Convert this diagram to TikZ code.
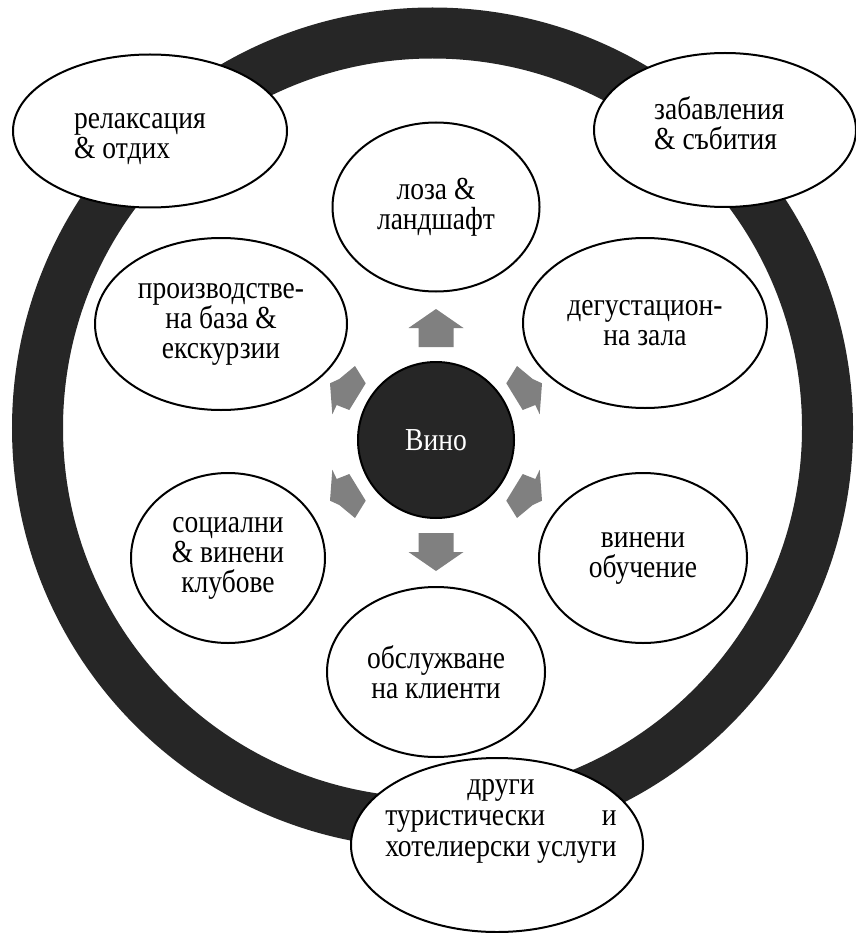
\documentclass[tikz,border=0pt]{standalone}
\usepackage{fontspec}
\setmainfont{Liberation Serif}[FakeStretch=0.86]
\usetikzlibrary{shapes.geometric}
\definecolor{ringc}{HTML}{262626}
\definecolor{arrc}{HTML}{808080}
\newsavebox\hotbox
\newcommand\dfont{\fontsize{32}{30}\selectfont}
\begin{document}
\sbox\hotbox{\fontsize{32}{31}\selectfont хотелиерски услуги}%
\begin{tikzpicture}[x=1pt,y=-1pt,
  ell/.style={ellipse, draw=black, line width=2pt, fill=white, inner sep=0pt,
    align=center, font=\dfont},
  txt/.style={inner sep=0pt, font=\dfont},
  radarrow/.style={fill=arrc}]
\useasboundingbox (0,0) rectangle (855,933);
\fill[white] (0,0) rectangle (855,933);
% ring
\draw[ringc, line width=51pt] (432.5,428) circle[radius=395];
% outer ellipses
\node[ell, minimum width=274pt, minimum height=153pt] (relax) at (150,131) {};
\node[txt, anchor=west, align=left] (relaxt) at (74,139) {релаксация\\\& отдих};
\node[ell, minimum width=262pt, minimum height=154pt] (fun) at (725,130) {};
\node[txt, anchor=west, align=left] (funt) at (654,123) {забавления\\\& събития};
\node[ell, minimum width=292pt, minimum height=174pt] (other) at (497,845) {};
\node[txt, align=center, font=\fontsize{32}{31}\selectfont] (othert) at (501,821)
  {други\\\makebox[\wd\hotbox]{туристически\hfill и}\\\usebox\hotbox};
% inner ellipses
\node[ell, minimum width=207pt, minimum height=169pt] (vine) at (436,207) {лоза \&\\ландшафт};
\node[ell, minimum width=252pt, minimum height=172pt] (prod) at (221,324) {производстве-\\на база \&\\екскурзии};
\node[ell, minimum width=244pt, minimum height=170pt] (tast) at (645,323) {дегустацион-\\на зала};
\node[ell, minimum width=194pt, minimum height=170pt] (club) at (228,558) {социални\\\& винени\\клубове};
\node[ell, minimum width=208pt, minimum height=170pt] (edu) at (643,558) {винени\\обучение};
\node[ell, minimum width=218pt, minimum height=170pt] (serv) at (436,672) {обслужване\\на клиенти};
% centre
\node[circle, draw=black, line width=2pt, fill=ringc, minimum size=156pt, inner sep=0pt,
  text=white, font=\dfont] (wine) at (436,440) {Вино};
% arrows
\fill[radarrow, shift={(wine.center)}] (-17.5,-93) -- (17.5,-93) -- (17.5,-112) -- (27.5,-112)
  -- (0,-131) -- (-27.5,-112) -- (-17.5,-112) -- cycle;
\fill[radarrow, shift={(wine.center)}, yscale=-1] (-17.5,-93) -- (17.5,-93) -- (17.5,-112) -- (27.5,-112)
  -- (0,-131) -- (-27.5,-112) -- (-17.5,-112) -- cycle;
\foreach \sx/\sy/\dy in {1/1/0, -1/1/0, 1/-1/4, -1/-1/4}{
  \fill[radarrow, shift={(wine.center)}, shift={(0,\dy)}, xscale=\sx, yscale=\sy]
    (-106,-56.7) -- (-96.7,-61) -- (-81,-74) -- (-70.3,-56.7) -- (-86.7,-30)
    -- (-99.3,-35) -- (-103.7,-25.7) -- cycle;
}
\end{tikzpicture}
\end{document}
